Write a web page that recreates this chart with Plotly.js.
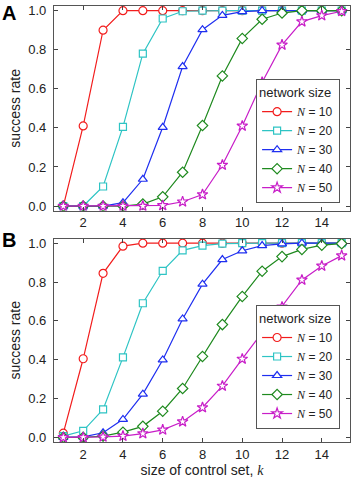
<!DOCTYPE html>
<html>
<head>
<meta charset="utf-8">
<script src="https://cdn.plot.ly/plotly-3.0.1.min.js"></script>
<style>
  html, body { margin: 0; padding: 0; background: #fff; }
  #chart { width: 355px; height: 480px; }
</style>
</head>
<body>
<div id="chart"></div>
<script>
// control set size k
const k = [1, 2, 3, 4, 5, 6, 7, 8, 9, 10, 11, 12, 13, 14, 15];
const sizeLabels = ["10", "20", "30", "40", "50"];

// panel A
const a10 = [0, 0.41, 0.90, 1.0, 1.0, 1.0, 1.0, 1.0, 1.0, 1.0, 1.0, 1.0, 1.0, 1.0, 1.0];
const a20 = [0, 0, 0.10, 0.405, 0.78, 0.96, 0.997, 1.0, 1.0, 1.0, 1.0, 1.0, 1.0, 1.0, 1.0];
const a30 = [0, 0, 0, 0.017, 0.137, 0.403, 0.714, 0.903, 0.976, 0.995, 1.0, 1.0, 1.0, 1.0, 1.0];
const a40 = [0, 0, 0, 0, 0.01, 0.047, 0.173, 0.412, 0.666, 0.858, 0.956, 0.988, 1.0, 1.0, 1.0];
const a50 = [0, 0, 0, 0, 0, 0.003, 0.022, 0.059, 0.21, 0.41, 0.634, 0.825, 0.944, 0.975, 0.997];

// panel B
const b10 = [0.022, 0.405, 0.845, 0.985, 1.0, 1.0, 1.0, 1.0, 1.0, 1.0, 1.0, 1.0, 1.0, 1.0, 1.0];
const b20 = [0.007, 0.034, 0.144, 0.412, 0.691, 0.858, 0.963, 0.988, 0.998, 1.0, 1.0, 1.0, 1.0, 1.0, 1.0];
const b30 = [0, 0.003, 0.024, 0.093, 0.223, 0.399, 0.61, 0.789, 0.916, 0.961, 0.988, 0.997, 1.0, 1.0, 1.0];
const b40 = [0, 0, 0.007, 0.027, 0.057, 0.135, 0.252, 0.417, 0.581, 0.726, 0.856, 0.931, 0.968, 0.99, 0.998];
const b50 = [0, 0, 0.003, 0.007, 0.02, 0.039, 0.081, 0.154, 0.265, 0.404, 0.541, 0.672, 0.811, 0.883, 0.936];

const colors = ["#f21d1d", "#2ec4c4", "#1f2ff0", "#1f8a1f", "#c81ec8"];
const symbols = ["circle", "square", "triangle-up", "diamond", "star"];
const sizes = [8, 7, 8, 8, 8];

const font = "Liberation Sans, Arial, sans-serif";
const serif = "Liberation Serif, Times New Roman, serif";

function series(ys, xa, ya, leg) {
  return ys.map((y, i) => ({
    x: k, y: y, xaxis: xa, yaxis: ya, legend: leg,
    type: "scatter", mode: "lines+markers",
    name: '<span style="font-family:' + serif + '"><i>N</i></span> = ' + sizeLabels[i],
    line: { color: colors[i], width: 1.2 },
    marker: { symbol: symbols[i], size: sizes[i], color: "white",
              line: { color: colors[i], width: 1.2 } }
  }));
}

const data = series([a10, a20, a30, a40, a50], "x", "y", "legend")
  .concat(series([b10, b20, b30, b40, b50], "x2", "y2", "legend2"));

const xax = {
  range: [0.53, 15.42], domain: [0.152, 0.986],
  tickvals: [2, 4, 6, 8, 10, 12, 14],
  ticks: "inside", ticklen: 4, tickcolor: "#444", mirror: "allticks",
  showline: true, linecolor: "#555", linewidth: 1,
  showgrid: false, zeroline: false,
  tickfont: { family: font, size: 13, color: "#222" }
};
const yax = {
  range: [-0.024, 1.024],
  tickvals: [0, 0.2, 0.4, 0.6, 0.8, 1.0], tickformat: ".1f",
  ticks: "inside", ticklen: 4, tickcolor: "#444", mirror: "allticks",
  showline: true, linecolor: "#555", linewidth: 1,
  showgrid: false, zeroline: false, ticklabelstandoff: 4,
  tickfont: { family: font, size: 13, color: "#222" },
  title: { text: "success rate", font: { family: font, size: 14, color: "#222" }, standoff: 4 }
};
const leg = {
  x: 0.958, xanchor: "right", yanchor: "bottom",
  bgcolor: "white", bordercolor: "#555", borderwidth: 1,
  font: { family: font, size: 12, color: "#222" },
  title: { text: "network size", font: { family: font, size: 13, color: "#222" } },
  itemwidth: 30, tracegroupgap: 0
};

const layout = {
  width: 355, height: 480,
  margin: { l: 0, r: 0, t: 0, b: 0 },
  paper_bgcolor: "white", plot_bgcolor: "white",
  xaxis: Object.assign({}, xax, { anchor: "y" }),
  yaxis: Object.assign({}, yax, { domain: [0.561, 0.9875], anchor: "x" }),
  xaxis2: Object.assign({}, xax, { anchor: "y2",
    title: { text: 'size of control set, <span style="font-family:' + serif + '"><i>k</i></span>',
             font: { family: font, size: 14, color: "#222" }, standoff: 4 } }),
  yaxis2: Object.assign({}, yax, { domain: [0.079, 0.503], anchor: "x2" }),
  legend: Object.assign({}, leg, { y: 0.5765 }),
  legend2: Object.assign({}, leg, { y: 0.106 }),
  annotations: [
    { text: "<b>A</b>", xref: "paper", yref: "paper", x: 0, y: 1.0, xanchor: "left", yanchor: "top",
      showarrow: false, font: { family: font, size: 20, color: "black" } },
    { text: "<b>B</b>", xref: "paper", yref: "paper", x: 0, y: 0.528, xanchor: "left", yanchor: "top",
      showarrow: false, font: { family: font, size: 20, color: "black" } }
  ]
};

Plotly.newPlot("chart", data, layout, { displayModeBar: false, staticPlot: true });
</script>
</body>
</html>
